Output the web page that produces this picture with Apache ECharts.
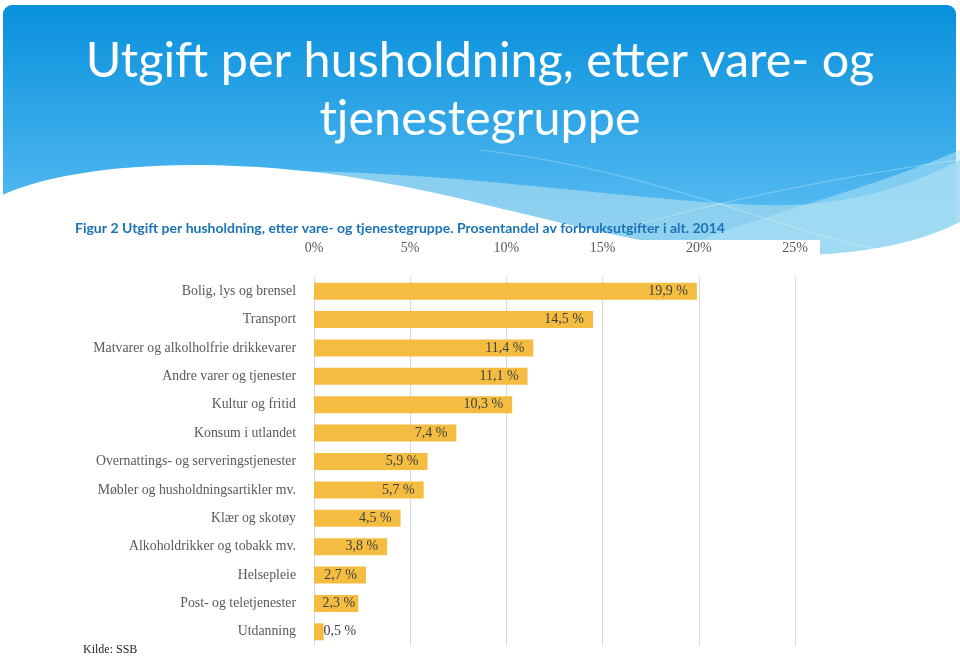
<!DOCTYPE html>
<html>
<head>
<meta charset="utf-8">
<script src="https://cdn.jsdelivr.net/npm/echarts@6/dist/echarts.min.js"></script>
<style>
html,body{margin:0;padding:0;background:#fff;}
#c{width:960px;height:657px;}
</style>
</head>
<body>
<div id="c"></div>
<script>
var categories = [
  "Bolig, lys og brensel",
  "Transport",
  "Matvarer og alkolholfrie drikkevarer",
  "Andre varer og tjenester",
  "Kultur og fritid",
  "Konsum i utlandet",
  "Overnattings- og serveringstjenester",
  "Møbler og husholdningsartikler mv.",
  "Klær og skotøy",
  "Alkoholdrikker og tobakk mv.",
  "Helsepleie",
  "Post- og teletjenester",
  "Utdanning"
];
var shares = [19.9, 14.5, 11.4, 11.1, 10.3, 7.4, 5.9, 5.7, 4.5, 3.8, 2.7, 2.3, 0.5];
var axisMin = 0, axisMax = 25, axisStep = 5;
var titleText = "Utgift per husholdning, etter vare- og\ntjenestegruppe";
var subtitleText = "Figur 2 Utgift per husholdning, etter vare- og tjenestegruppe. Prosentandel av forbruksutgifter i alt. 2014";
var sourceText = "Kilde: SSB";

var serif = "'Liberation Serif', 'DejaVu Serif', serif";
var chart = echarts.init(document.getElementById('c'), null, {renderer: 'canvas'});

// sample a chain of cubic bezier segments into polygon points (decorative background only)
function curve(start, segs) {
  var pts = [start];
  var p0 = start;
  segs.forEach(function (s) {
    for (var k = 1; k <= 24; k++) {
      var t = k / 24, u = 1 - t;
      pts.push([
        u*u*u*p0[0] + 3*u*u*t*s[0][0] + 3*u*t*t*s[1][0] + t*t*t*s[2][0],
        u*u*u*p0[1] + 3*u*u*t*s[0][1] + 3*u*t*t*s[1][1] + t*t*t*s[2][1]
      ]);
    }
    p0 = s[2];
  });
  return pts;
}

var whiteWave = curve([0, 196], [
  [[60, 168], [180, 155], [330, 174]],
  [[450, 190], [560, 228], [680, 247]],
  [[780, 262], [890, 258], [960, 222]]
]).concat([[960, 657], [0, 657]]);
var lightBand = curve([250, 172], [
  [[420, 166], [620, 200], [760, 205]],
  [[850, 208], [910, 185], [960, 160]]
]).concat([[960, 275], [250, 275]]);
var lightBand2 = curve([700, 240], [
  [[780, 210], [880, 185], [960, 150]]
]).concat([[960, 270], [700, 270]]);
var line1 = curve([480, 150], [[[650, 170], [780, 230], [880, 250]]]);
var line2 = curve([600, 235], [[[720, 200], [850, 175], [958, 160]]]);

var barData = shares.map(function (v, i) {
  var item = {value: v};
  if (i === shares.length - 1) {
    item.label = {position: 'right', distance: 0};
  } else if (i === shares.length - 2) {
    item.label = {distance: 3};
  }
  return item;
});

chart.setOption({
  animation: false,
  backgroundColor: '#ffffff',
  graphic: [
    {
      type: 'rect', z: -30, silent: true,
      shape: {x: 3, y: 5, width: 953, height: 270, r: [9, 9, 0, 0]},
      style: {fill: new echarts.graphic.LinearGradient(0, 0, 0, 1, [
        {offset: 0, color: '#0890dc'},
        {offset: 0.7, color: '#4db6ef'},
        {offset: 1, color: '#6cc4f3'}
      ])}
    },
    {type: 'polygon', z: -29, silent: true, shape: {points: lightBand}, style: {fill: 'rgba(150,212,240,0.85)'}},
    {type: 'polygon', z: -28, silent: true, shape: {points: lightBand2}, style: {fill: 'rgba(175,225,245,0.55)'}},
    {type: 'polyline', z: -27, silent: true, shape: {points: line1}, style: {stroke: 'rgba(255,255,255,0.3)', lineWidth: 1}},
    {type: 'polyline', z: -27, silent: true, shape: {points: line2}, style: {stroke: 'rgba(255,255,255,0.3)', lineWidth: 1}},
    {type: 'polygon', z: -26, silent: true, shape: {points: whiteWave}, style: {fill: '#ffffff'}},
    {type: 'rect', z: -25, silent: true, shape: {x: 290, y: 240, width: 530, height: 417}, style: {fill: '#ffffff'}},
    {
      type: 'text', z: 10, left: 83, top: 644,
      style: {text: sourceText, fill: '#262626', font: "12px " + serif}
    }
  ],
  title: [
    {
      text: titleText,
      left: 480, top: 32, padding: 0,
      textAlign: 'center',
      textStyle: {color: '#ffffff', fontFamily: 'Lato', fontWeight: 'normal', fontSize: 48.5, lineHeight: 58}
    },
    {
      text: subtitleText,
      left: 75, top: 221, padding: 0,
      textStyle: {color: '#1b74b6', fontFamily: 'Lato', fontWeight: 'bold', fontSize: 14}
    }
  ],
  grid: {left: 314, right: 165, top: 277, height: 369, containLabel: false},
  xAxis: {
    type: 'value', position: 'top',
    min: axisMin, max: axisMax, interval: axisStep,
    axisLine: {show: false}, axisTick: {show: false},
    axisLabel: {color: '#595959', fontFamily: serif, fontSize: 14, margin: 22, formatter: '{value}%'},
    splitLine: {show: true, lineStyle: {color: '#d9d9d9', width: 1}}
  },
  yAxis: {
    type: 'category', inverse: true, data: categories,
    axisLine: {show: false}, axisTick: {show: false},
    axisLabel: {color: '#595959', fontFamily: serif, fontSize: 13.8, margin: 18}
  },
  series: [{
    type: 'bar', data: barData, barWidth: 17,
    itemStyle: {color: '#f4bd41'},
    label: {
      show: true, position: 'insideRight', distance: 9,
      color: '#404040', fontFamily: serif, fontSize: 14,
      formatter: function (p) { return p.value.toFixed(1).replace('.', ',') + ' %'; }
    }
  }]
});
</script>
</body>
</html>
